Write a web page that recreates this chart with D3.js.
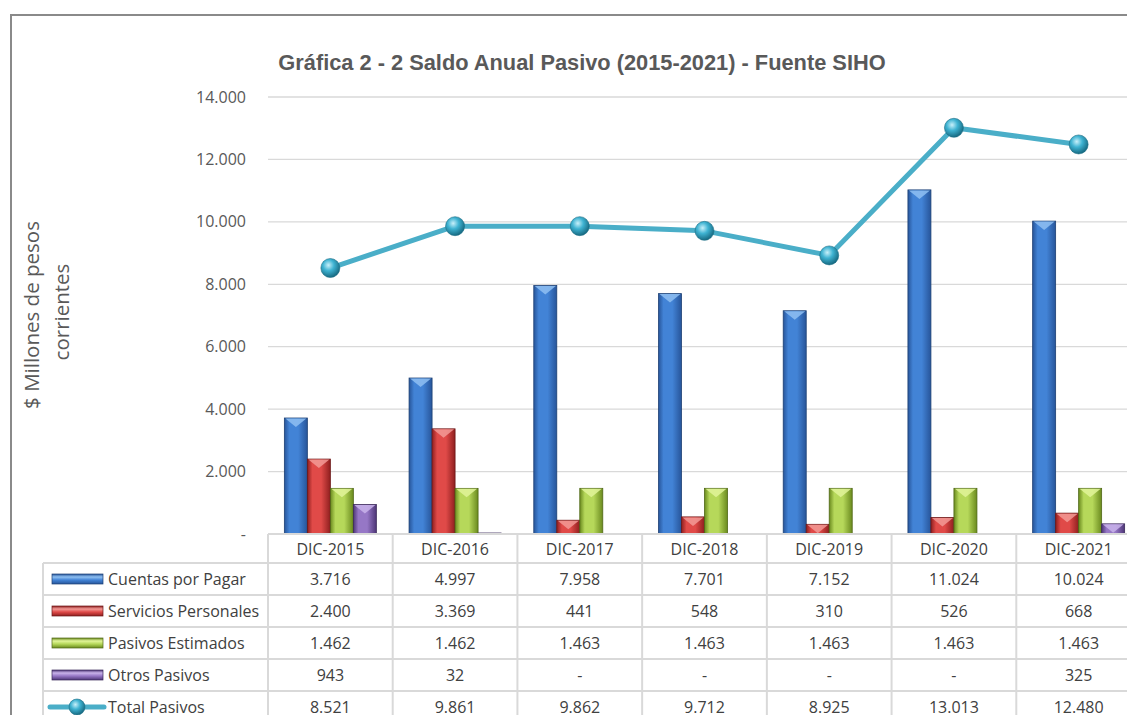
<!DOCTYPE html>
<html>
<head>
<meta charset="utf-8">
<script src="https://cdn.jsdelivr.net/npm/d3@7"></script>
<style>
  body { margin: 0; background: #fff; }
  svg { display: block; }
  .tick-label { font-family: "Open Sans", "Noto Sans", sans-serif; font-size: 16px; fill: #595959; }
  .cell { font-family: "Open Sans", "Noto Sans", sans-serif; font-size: 16px; fill: #404040; }
</style>
</head>
<body>
<div id="viz-holder"></div>
<script>
// data
let years = ['DIC-2015', 'DIC-2016', 'DIC-2017', 'DIC-2018', 'DIC-2019', 'DIC-2020', 'DIC-2021'];
let seriesNames = ['Cuentas por Pagar', 'Servicios Personales', 'Pasivos Estimados', 'Otros Pasivos'];
let cuentasPorPagar = [3716, 4997, 7958, 7701, 7152, 11024, 10024];
let serviciosPersonales = [2400, 3369, 441, 548, 310, 526, 668];
let pasivosEstimados = [1462, 1462, 1463, 1463, 1463, 1463, 1463];
let otrosPasivos = [943, 32, 0, 0, 0, 0, 325];
let totalPasivos = [8521, 9861, 9862, 9712, 8925, 13013, 12480];
let totalName = 'Total Pasivos';
let yTicks = [0, 2000, 4000, 6000, 8000, 10000, 12000, 14000];

let seriesValues = [cuentasPorPagar, serviciosPersonales, pasivosEstimados, otrosPasivos];

let width = 1127, height = 715;
let plotLeft = 268, plotRight = 1141, plotTop = 97, plotBottom = 534;
let rowH = 32;
let legendLeft = 43;

let locale = d3.formatLocale({ decimal: ',', thousands: '.', grouping: [3], currency: ['$', ''] });
let fmt = locale.format(',.0f');
let fmtCell = v => v === 0 ? '-' : fmt(v);

// colours: [edge, middle, highlight]
let pal = [
	['#27559a', '#4283d6', '#8fc0f2'],
	['#8f1f1f', '#e04a48', '#f29a96'],
	['#6a8a1e', '#b6d85a', '#e2f59a'],
	['#4e3677', '#9677c6', '#c9b3ea']
];

let svg = d3.select('#viz-holder')
	.append('svg')
	.attr('width', width)
	.attr('height', height);

let defs = svg.append('defs');
pal.forEach((c, i) => {
	let g = defs.append('linearGradient').attr('id', 'barGrad' + i)
		.attr('x1', 0).attr('x2', 1).attr('y1', 0).attr('y2', 0);
	g.append('stop').attr('offset', '0%').attr('stop-color', c[0]);
	g.append('stop').attr('offset', '22%').attr('stop-color', c[1]);
	g.append('stop').attr('offset', '60%').attr('stop-color', c[1]);
	g.append('stop').attr('offset', '100%').attr('stop-color', c[0]);
	let v = defs.append('linearGradient').attr('id', 'keyGrad' + i)
		.attr('x1', 0).attr('x2', 0).attr('y1', 0).attr('y2', 1);
	v.append('stop').attr('offset', '0%').attr('stop-color', c[0]);
	v.append('stop').attr('offset', '30%').attr('stop-color', c[2]);
	v.append('stop').attr('offset', '60%').attr('stop-color', c[1]);
	v.append('stop').attr('offset', '100%').attr('stop-color', c[0]);
});
let sg = defs.append('radialGradient').attr('id', 'sphere')
	.attr('cx', '40%').attr('cy', '35%').attr('r', '65%');
sg.append('stop').attr('offset', '0%').attr('stop-color', '#c8f0fa');
sg.append('stop').attr('offset', '45%').attr('stop-color', '#3fb3d2');
sg.append('stop').attr('offset', '100%').attr('stop-color', '#176a82');

// outer frame
svg.append('rect')
	.attr('x', 11).attr('y', 15)
	.attr('width', 1200).attr('height', 800)
	.attr('fill', 'none').attr('stroke', '#8a8a8a').attr('stroke-width', 2);

// title
svg.append('text')
	.attr('x', 582).attr('y', 70)
	.attr('text-anchor', 'middle')
	.style('font-family', '"Liberation Sans Narrow", "Arial Narrow", sans-serif')
	.style('font-weight', 'bold')
	.style('font-size', '21.8px')
	.style('fill', '#595959')
	.text('Gráfica 2 - 2 Saldo Anual Pasivo (2015-2021) - Fuente SIHO');

// y axis title
let ytStyle = t => t.attr('text-anchor', 'middle')
	.style('font-family', '"Open Sans", "Noto Sans", sans-serif')
	.style('font-size', '20.5px')
	.style('fill', '#595959');
svg.append('text')
	.attr('transform', 'translate(39,315) rotate(-90)')
	.call(ytStyle)
	.text('$ Millones de pesos');
svg.append('text')
	.attr('transform', 'translate(69,312) rotate(-90)')
	.call(ytStyle)
	.text('corrientes');

let x0 = d3.scaleBand().domain(years).range([plotLeft, plotRight]);
let groupW = 92;
let x1 = d3.scaleBand().domain(seriesNames)
	.range([(x0.bandwidth() - groupW) / 2, (x0.bandwidth() + groupW) / 2]);
let y = d3.scaleLinear().domain([0, 14000]).range([plotBottom, plotTop]);

// grid
svg.append('g').selectAll('line')
	.data(yTicks.filter(t => t > 0))
	.enter().append('line')
	.attr('x1', plotLeft).attr('x2', width)
	.attr('y1', d => y(d)).attr('y2', d => y(d))
	.attr('stroke', '#d9d9d9').attr('stroke-width', 1.3);

// y axis labels
let yAxis = d3.axisLeft(y).tickValues(yTicks).tickSize(0).tickPadding(0)
	.tickFormat(d => d === 0 ? '-' : fmt(d));
let ya = svg.append('g').attr('transform', 'translate(246,0)').call(yAxis);
ya.select('.domain').remove();
ya.selectAll('text').attr('class', 'tick-label').attr('font-family', null).attr('font-size', null);

// bars
let barData = [];
years.forEach((yr, i) => {
	seriesNames.forEach((s, j) => {
		barData.push({ year: yr, series: s, idx: j, value: seriesValues[j][i] });
	});
});

let bars = svg.append('g').selectAll('.bar')
	.data(barData.filter(d => d.value > 0))
	.enter().append('g')
	.attr('class', 'bar');

bars.append('rect')
	.attr('x', d => x0(d.year) + x1(d.series))
	.attr('y', d => y(d.value))
	.attr('width', x1.bandwidth())
	.attr('height', d => plotBottom - y(d.value))
	.attr('fill', d => 'url(#barGrad' + d.idx + ')')
	.attr('stroke', d => d3.color(pal[d.idx][0]).darker(0.8))
	.attr('stroke-width', 0.8);

bars.append('path')
	.attr('d', d => {
		let bx = x0(d.year) + x1(d.series), bw = x1.bandwidth(), by = y(d.value);
		let h = Math.min(9, plotBottom - by);
		return 'M' + (bx + 1) + ',' + (by + 0.5) + 'L' + (bx + bw - 1) + ',' + (by + 0.5) +
			'L' + (bx + bw / 2) + ',' + (by + h) + 'Z';
	})
	.attr('fill', d => pal[d.idx][2])
	.attr('opacity', 0.85);

// total line
let line = d3.line()
	.x((d, i) => x0(years[i]) + x0.bandwidth() / 2)
	.y(d => y(d));

svg.append('path')
	.datum(totalPasivos)
	.attr('d', line)
	.attr('fill', 'none')
	.attr('stroke', '#4aaec8')
	.attr('stroke-width', 5)
	.attr('stroke-linejoin', 'round');

svg.append('g').selectAll('circle')
	.data(totalPasivos)
	.enter().append('circle')
	.attr('cx', (d, i) => x0(years[i]) + x0.bandwidth() / 2)
	.attr('cy', d => y(d))
	.attr('r', 9.5)
	.attr('fill', 'url(#sphere)')
	.attr('stroke', '#1d6f86')
	.attr('stroke-width', 0.6);

// data table
let table = svg.append('g');
let gridColor = '#d9d9d9';
let rowsTop = plotBottom + 29;
let nRows = seriesNames.length + 1;

// horizontal lines
table.append('line').attr('x1', plotLeft).attr('x2', width)
	.attr('y1', plotBottom).attr('y2', plotBottom)
	.attr('stroke', gridColor).attr('stroke-width', 2);
d3.range(nRows + 1).forEach(r => {
	table.append('line').attr('x1', legendLeft).attr('x2', width)
		.attr('y1', rowsTop + r * rowH).attr('y2', rowsTop + r * rowH)
		.attr('stroke', gridColor).attr('stroke-width', 2);
});
// vertical lines
table.append('line').attr('x1', legendLeft).attr('x2', legendLeft)
	.attr('y1', rowsTop).attr('y2', height)
	.attr('stroke', gridColor).attr('stroke-width', 2);
years.forEach(yr => {
	table.append('line').attr('x1', x0(yr)).attr('x2', x0(yr))
		.attr('y1', plotBottom).attr('y2', height)
		.attr('stroke', gridColor).attr('stroke-width', 2);
});

// header
table.selectAll('.hdr')
	.data(years)
	.enter().append('text')
	.attr('class', 'cell')
	.attr('x', d => x0(d) + x0.bandwidth() / 2)
	.attr('y', plotBottom + 15)
	.attr('dy', '0.35em')
	.attr('text-anchor', 'middle')
	.text(d => d);

let allRows = seriesValues.concat([totalPasivos]);
let allNames = seriesNames.concat([totalName]);

allRows.forEach((vals, r) => {
	let cy = rowsTop + r * rowH + rowH / 2;
	table.append('g').selectAll('text')
		.data(vals)
		.enter().append('text')
		.attr('class', 'cell')
		.attr('x', (d, i) => x0(years[i]) + x0.bandwidth() / 2)
		.attr('y', cy)
		.attr('dy', '0.35em')
		.attr('text-anchor', 'middle')
		.text(d => fmtCell(d));

	table.append('text')
		.attr('class', 'cell')
		.attr('x', 108)
		.attr('y', cy)
		.attr('dy', '0.35em')
		.text(allNames[r]);

	if (r < seriesNames.length) {
		table.append('rect')
			.attr('x', 52).attr('y', cy - 5)
			.attr('width', 51).attr('height', 10)
			.attr('fill', 'url(#keyGrad' + r + ')')
			.attr('stroke', d3.color(pal[r][0]).darker(0.8))
			.attr('stroke-width', 0.7);
	} else {
		table.append('line')
			.attr('x1', 50).attr('x2', 104)
			.attr('y1', cy).attr('y2', cy)
			.attr('stroke', '#4aaec8').attr('stroke-width', 5)
			.attr('stroke-linecap', 'round');
		table.append('circle')
			.attr('cx', 77).attr('cy', cy).attr('r', 8)
			.attr('fill', 'url(#sphere)')
			.attr('stroke', '#1d6f86').attr('stroke-width', 0.6);
	}
});
</script>
</body>
</html>
